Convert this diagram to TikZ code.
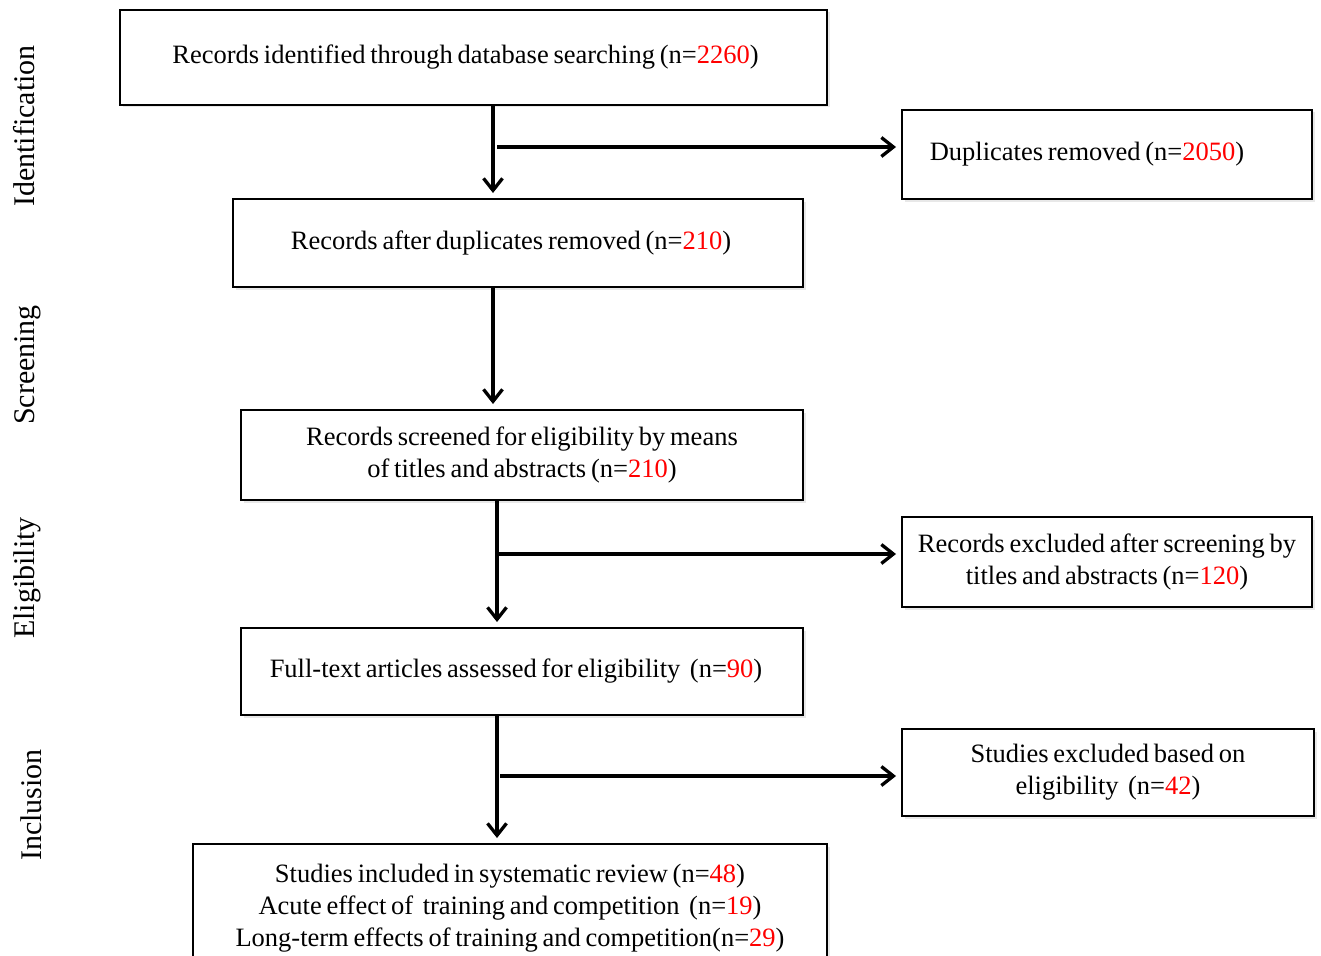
\documentclass[tikz,border=0pt]{standalone}
\usepackage{fontspec}
\setmainfont{Liberation Serif}[WordSpace=0.72]
\usetikzlibrary{arrows.meta,shadows}
\tikzset{
  stagebox/.style={draw,line width=2pt,fill=white,align=center,inner sep=0pt,
    font=\fontsize{26.5}{32}\selectfont,
    drop shadow={opacity=0.18,shadow xshift=2.5pt,shadow yshift=-2.5pt}},
  flow/.style={line width=3.3pt,shorten >=5pt,-{Straight Barb[length=12pt,width=19pt,line width=3.3pt]}},
  phase/.style={rotate=90,anchor=base,font=\fontsize{30}{30}\selectfont}
}
\newcommand{\nval}[1]{\textcolor{red}{#1}}
\begin{document}
\begin{tikzpicture}[x=1pt,y=-1pt]
  \useasboundingbox (0,0) rectangle (1321,955);
  \fill[white] (0,0) rectangle (1321,955);
  % phases
  \node[phase] (lident) at (34,126) {Identification};
  \node[phase] (lscreen) at (34,365) {Screening};
  \node[phase] (lelig) at (34,578) {Eligibility};
  \node[phase] (lincl) at (41,805) {Inclusion};
  % boxes
  \node[stagebox,minimum width=707pt,minimum height=95pt] (ident) at (473.5,57.5)
    {Records identified through database searching (n=\nval{2260})\hspace*{16pt}};
  \node[stagebox,minimum width=410pt,minimum height=89pt] (dupl) at (1107,154.5)
    {Duplicates removed (n=\nval{2050})\hspace*{40pt}};
  \node[stagebox,minimum width=570pt,minimum height=88pt] (afterdup) at (518,243)
    {Records after duplicates removed (n=\nval{210})\hspace*{14pt}};
  \node[stagebox,minimum width=562pt,minimum height=90pt] (screen) at (522,455)
    {Records screened for eligibility by means\\of titles and abstracts (n=\nval{210})};
  \node[stagebox,minimum width=410pt,minimum height=90pt] (excl) at (1107,562)
    {Records excluded after screening by\\titles and abstracts (n=\nval{120})};
  \node[stagebox,minimum width=562pt,minimum height=87pt] (fulltext) at (522,671.5)
    {Full-text articles assessed for eligibility\ \ (n=\nval{90})\hspace*{12pt}};
  \node[stagebox,minimum width=412pt,minimum height=87pt] (studexcl) at (1108,772.5)
    {Studies excluded based on\\eligibility\ \ (n=\nval{42})};
  \node[stagebox,minimum width=634pt,minimum height=128pt] (incl) at (510,908)
    {Studies included in systematic review (n=\nval{48})\\
     Acute effect of\ \ training and competition\ \ (n=\nval{19})\\
     Long-term effects of training and competition(n=\nval{29})};
  % connectors
  \coordinate (j1) at (493,147);
  \coordinate (j2) at (493,300);
  \coordinate (j3) at (497,554);
  \coordinate (j4) at (497,776);
  \draw[flow] (j1 |- ident.south) -- (j1 |- afterdup.north);
  \draw[flow] ([xshift=4pt]j1) -- (dupl.west |- j1);
  \draw[flow] (j2 |- afterdup.south) -- (j2 |- screen.north);
  \draw[flow] (j3 |- screen.south) -- (j3 |- fulltext.north);
  \draw[flow] (j3) -- (excl.west |- j3);
  \draw[flow] (j4 |- fulltext.south) -- (j4 |- incl.north);
  \draw[flow] ([xshift=3pt]j4) -- (studexcl.west |- j4);
\end{tikzpicture}
\end{document}
